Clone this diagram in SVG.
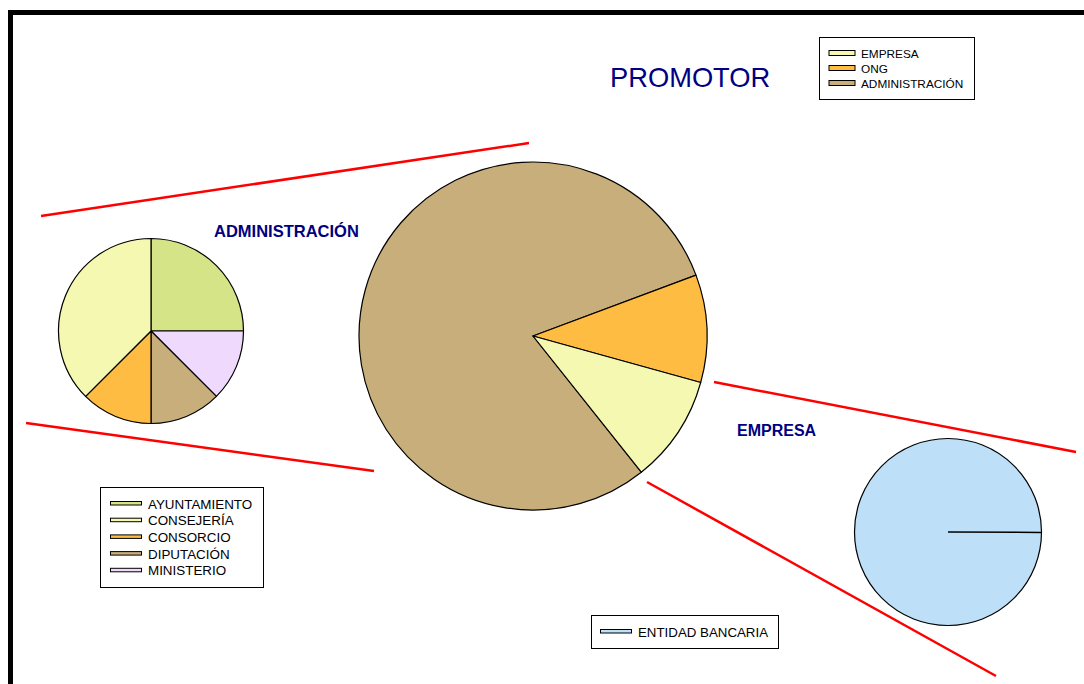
<svg xmlns="http://www.w3.org/2000/svg" width="1084" height="684" viewBox="0 0 1084 684">
<style>
.sl{stroke:#000;stroke-width:1.2;stroke-linejoin:round}
.red{stroke:#ff0000;stroke-width:2.5;fill:none}
.lg{fill:#fff;stroke:#000;stroke-width:1}
.sw{stroke:#000;stroke-width:1}
.lt{font-family:"Liberation Sans",Arial,sans-serif;fill:#000}
.ttl{font-family:"Liberation Sans",Arial,sans-serif;fill:#000080}
</style>
<rect width="1084" height="684" fill="#fff"/>
<rect x="10.5" y="12.5" width="1100" height="700" fill="none" stroke="#000" stroke-width="5"/>
<g id="connectors">
<line class="red" x1="41" y1="216" x2="529" y2="143"/>
<line class="red" x1="26" y1="423" x2="374" y2="471"/>
<line class="red" x1="714" y1="382" x2="1076" y2="452"/>
<line class="red" x1="647" y1="482" x2="996" y2="676"/>
</g>
<g id="pie-promotor">
<path class="sl" fill="#C8AE7A" d="M533,336 L641.3,472.2 A174,174 0 1 1 696,275.1 Z"/>
<path class="sl" fill="#FFBC42" d="M533,336 L696,275.1 A174,174 0 0 1 700.7,382.5 Z"/>
<path class="sl" fill="#F5F8B0" d="M533,336 L700.7,382.5 A174,174 0 0 1 641.3,472.2 Z"/>
</g>
<g id="pie-administracion">
<path class="sl" fill="#D4E486" d="M151,331 L151,238.5 A92.5,92.5 0 0 1 243.5,331 Z"/>
<path class="sl" fill="#EFD9FC" d="M151,331 L243.5,331 A92.5,92.5 0 0 1 216.4,396.4 Z"/>
<path class="sl" fill="#C8AE7A" d="M151,331 L216.4,396.4 A92.5,92.5 0 0 1 151,423.5 Z"/>
<path class="sl" fill="#FFBC42" d="M151,331 L151,423.5 A92.5,92.5 0 0 1 85.6,396.4 Z"/>
<path class="sl" fill="#F5F8B0" d="M151,331 L85.6,396.4 A92.5,92.5 0 0 1 151,238.5 Z"/>
</g>
<g id="pie-empresa">
<circle class="sl" fill="#BDE0F8" cx="948" cy="532" r="93.5"/>
<line x1="948" y1="532" x2="1041.5" y2="532.5" stroke="#000" stroke-width="1.5"/>
</g>
<g id="title-promotor"><text class="ttl" x="610" y="87" font-size="27.3">PROMOTOR</text></g>
<g id="label-administracion"><text class="ttl" x="214" y="237" font-size="16.5" font-weight="bold">ADMINISTRACIÓN</text></g>
<g id="label-empresa"><text class="ttl" x="737" y="436" font-size="16" font-weight="bold">EMPRESA</text></g>
<g id="legend-promotor">
<rect class="lg" x="819.5" y="37.5" width="155" height="62"/>
<rect class="sw" x="829" y="50.5" width="26" height="5" fill="#F5F8B0"/>
<rect class="sw" x="829" y="65.5" width="26" height="5" fill="#FFBC42"/>
<rect class="sw" x="829" y="80.5" width="26" height="5" fill="#C8AE7A"/>
<text class="lt" x="861" y="57.5" font-size="11.8">EMPRESA</text>
<text class="lt" x="861" y="72.5" font-size="11.8">ONG</text>
<text class="lt" x="861" y="87.5" font-size="11.8">ADMINISTRACIÓN</text>
</g>
<g id="legend-administracion">
<rect class="lg" x="100.5" y="487.5" width="163" height="100"/>
<rect class="sw" x="110.5" y="501.5" width="31" height="3.5" fill="#D4E486"/>
<rect class="sw" x="110.5" y="518.2" width="31" height="3.5" fill="#F5F8B0"/>
<rect class="sw" x="110.5" y="534.9" width="31" height="3.5" fill="#FFBC42"/>
<rect class="sw" x="110.5" y="551.6" width="31" height="3.5" fill="#C8AE7A"/>
<rect class="sw" x="110.5" y="568.3" width="31" height="3.5" fill="#EFD9FC"/>
<text class="lt" x="148" y="508.5" font-size="13.4">AYUNTAMIENTO</text>
<text class="lt" x="148" y="525.2" font-size="13.4">CONSEJERÍA</text>
<text class="lt" x="148" y="541.9" font-size="13.4">CONSORCIO</text>
<text class="lt" x="148" y="558.6" font-size="13.4">DIPUTACIÓN</text>
<text class="lt" x="148" y="575.3" font-size="13.4">MINISTERIO</text>
</g>
<g id="legend-empresa">
<rect class="lg" x="591.5" y="615.5" width="187" height="33"/>
<rect class="sw" x="600.5" y="629.5" width="31" height="3.5" fill="#BDE0F8"/>
<text class="lt" x="638" y="636.5" font-size="13.3">ENTIDAD BANCARIA</text>
</g>
</svg>
